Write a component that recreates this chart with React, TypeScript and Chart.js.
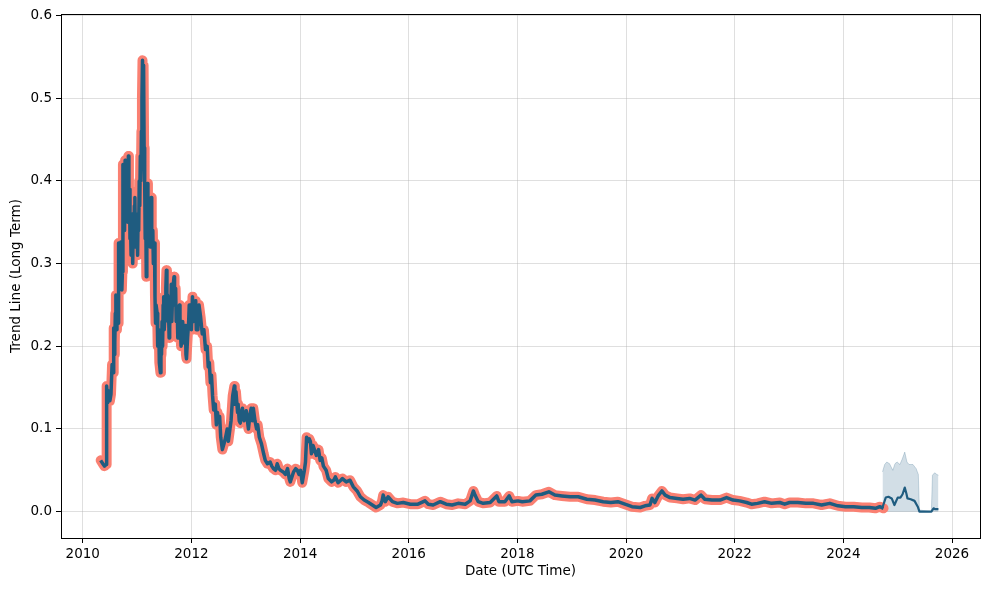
import React, { useEffect, useRef } from "react";
import { Chart, registerables } from "chart.js";

Chart.register(...registerables);

// [decimal year, value]
const history: [number, number][] = [
  [2010.33, 0.062], [2010.37, 0.058], [2010.40, 0.055], [2010.43, 0.057], [2010.44, 0.152],
  [2010.46, 0.132], [2010.48, 0.146], [2010.50, 0.134], [2010.52, 0.142], [2010.54, 0.178],
  [2010.56, 0.168], [2010.57, 0.222], [2010.58, 0.19], [2010.59, 0.205], [2010.60, 0.24],
  [2010.61, 0.262], [2010.62, 0.22], [2010.63, 0.238], [2010.64, 0.25], [2010.65, 0.228],
  [2010.66, 0.325], [2010.67, 0.27], [2010.68, 0.31], [2010.69, 0.28], [2010.70, 0.326],
  [2010.71, 0.29], [2010.72, 0.268], [2010.73, 0.29], [2010.74, 0.42], [2010.75, 0.36],
  [2010.76, 0.395], [2010.77, 0.34], [2010.78, 0.425], [2010.79, 0.36], [2010.80, 0.37],
  [2010.81, 0.41], [2010.82, 0.415], [2010.83, 0.35], [2010.84, 0.43], [2010.85, 0.38],
  [2010.86, 0.39], [2010.87, 0.33], [2010.88, 0.345], [2010.89, 0.31], [2010.90, 0.32],
  [2010.91, 0.36], [2010.92, 0.30], [2010.93, 0.35], [2010.94, 0.33], [2010.95, 0.37],
  [2010.96, 0.38], [2010.97, 0.32], [2010.98, 0.335], [2010.99, 0.36], [2011.01, 0.31],
  [2011.02, 0.36], [2011.03, 0.34], [2011.04, 0.40], [2011.05, 0.37], [2011.06, 0.43],
  [2011.07, 0.40], [2011.08, 0.46], [2011.09, 0.50], [2011.10, 0.546], [2011.11, 0.52],
  [2011.12, 0.54], [2011.13, 0.44], [2011.14, 0.40], [2011.15, 0.33], [2011.16, 0.357],
  [2011.17, 0.284], [2011.18, 0.34], [2011.19, 0.397], [2011.20, 0.35], [2011.21, 0.37],
  [2011.22, 0.33], [2011.23, 0.36], [2011.24, 0.32], [2011.26, 0.38], [2011.27, 0.33],
  [2011.29, 0.34], [2011.30, 0.30], [2011.32, 0.325], [2011.33, 0.26], [2011.34, 0.228],
  [2011.35, 0.25], [2011.37, 0.24], [2011.38, 0.20], [2011.40, 0.22], [2011.41, 0.18],
  [2011.43, 0.168], [2011.44, 0.2], [2011.45, 0.19], [2011.46, 0.23], [2011.47, 0.20],
  [2011.48, 0.25], [2011.49, 0.26], [2011.50, 0.22], [2011.52, 0.245], [2011.53, 0.27],
  [2011.54, 0.292], [2011.55, 0.25], [2011.56, 0.262], [2011.57, 0.23], [2011.58, 0.24],
  [2011.59, 0.21], [2011.60, 0.22], [2011.61, 0.26], [2011.62, 0.24], [2011.63, 0.275],
  [2011.64, 0.23], [2011.65, 0.255], [2011.66, 0.27], [2011.68, 0.284], [2011.69, 0.25],
  [2011.71, 0.27], [2011.72, 0.23], [2011.74, 0.24], [2011.75, 0.21], [2011.76, 0.22],
  [2011.78, 0.25], [2011.79, 0.235], [2011.81, 0.20], [2011.83, 0.21], [2011.84, 0.23],
  [2011.86, 0.204], [2011.87, 0.22], [2011.89, 0.225], [2011.90, 0.19], [2011.91, 0.185],
  [2011.93, 0.21], [2011.95, 0.23], [2011.96, 0.25], [2011.98, 0.25], [2012.00, 0.22],
  [2012.02, 0.26], [2012.03, 0.24], [2012.04, 0.23], [2012.06, 0.25], [2012.08, 0.255],
  [2012.09, 0.22], [2012.11, 0.22], [2012.12, 0.245], [2012.14, 0.25], [2012.17, 0.235],
  [2012.20, 0.215], [2012.23, 0.22], [2012.26, 0.196], [2012.29, 0.2], [2012.31, 0.175],
  [2012.33, 0.18], [2012.35, 0.156], [2012.37, 0.165], [2012.39, 0.14], [2012.41, 0.123],
  [2012.44, 0.13], [2012.46, 0.105], [2012.48, 0.12], [2012.50, 0.108], [2012.52, 0.115],
  [2012.54, 0.09], [2012.57, 0.075], [2012.60, 0.082], [2012.63, 0.09], [2012.66, 0.1],
  [2012.68, 0.085], [2012.70, 0.095], [2012.73, 0.11], [2012.76, 0.14], [2012.79, 0.152],
  [2012.80, 0.13], [2012.82, 0.145], [2012.85, 0.12], [2012.86, 0.13], [2012.88, 0.11],
  [2012.90, 0.107], [2012.92, 0.12], [2012.94, 0.125], [2012.97, 0.11], [2013.01, 0.122],
  [2013.05, 0.1], [2013.08, 0.118], [2013.10, 0.125], [2013.12, 0.11], [2013.14, 0.125],
  [2013.17, 0.11], [2013.20, 0.1], [2013.22, 0.105], [2013.25, 0.09], [2013.29, 0.082],
  [2013.33, 0.07], [2013.36, 0.062], [2013.40, 0.058], [2013.45, 0.06], [2013.48, 0.055],
  [2013.51, 0.052], [2013.55, 0.05], [2013.58, 0.058], [2013.61, 0.052], [2013.64, 0.05],
  [2013.69, 0.048], [2013.73, 0.045], [2013.77, 0.052], [2013.80, 0.04], [2013.82, 0.036],
  [2013.85, 0.042], [2013.88, 0.048], [2013.92, 0.052], [2013.95, 0.05], [2013.98, 0.045],
  [2014.01, 0.05], [2014.04, 0.035], [2014.08, 0.05], [2014.10, 0.06], [2014.12, 0.09],
  [2014.15, 0.085], [2014.17, 0.088], [2014.19, 0.085], [2014.21, 0.07], [2014.24, 0.08],
  [2014.27, 0.074], [2014.30, 0.068], [2014.34, 0.075], [2014.37, 0.062], [2014.40, 0.065],
  [2014.43, 0.055], [2014.48, 0.05], [2014.52, 0.04], [2014.58, 0.036], [2014.62, 0.038],
  [2014.65, 0.042], [2014.70, 0.035], [2014.75, 0.038], [2014.78, 0.04], [2014.85, 0.036],
  [2014.92, 0.038], [2014.98, 0.03], [2015.05, 0.025], [2015.11, 0.018], [2015.18, 0.014],
  [2015.26, 0.011], [2015.33, 0.008], [2015.40, 0.005], [2015.48, 0.008], [2015.51, 0.013],
  [2015.53, 0.02], [2015.57, 0.012], [2015.62, 0.018], [2015.70, 0.012], [2015.79, 0.01],
  [2015.90, 0.011], [2016.03, 0.009], [2016.17, 0.009], [2016.30, 0.013], [2016.36, 0.009],
  [2016.45, 0.008], [2016.58, 0.012], [2016.69, 0.009], [2016.80, 0.008], [2016.91, 0.01],
  [2017.04, 0.009], [2017.13, 0.013], [2017.17, 0.021], [2017.19, 0.025], [2017.22, 0.02],
  [2017.28, 0.012], [2017.37, 0.01], [2017.50, 0.011], [2017.62, 0.019], [2017.66, 0.012],
  [2017.77, 0.012], [2017.85, 0.019], [2017.90, 0.012], [2018.01, 0.013], [2018.09, 0.012],
  [2018.23, 0.013], [2018.34, 0.02], [2018.45, 0.021], [2018.58, 0.024], [2018.69, 0.02],
  [2018.82, 0.019], [2018.97, 0.018], [2019.12, 0.018], [2019.28, 0.015], [2019.43, 0.014],
  [2019.58, 0.012], [2019.72, 0.011], [2019.85, 0.012], [2019.98, 0.009], [2020.11, 0.006],
  [2020.26, 0.005], [2020.35, 0.007], [2020.44, 0.008], [2020.48, 0.016], [2020.53, 0.011],
  [2020.59, 0.019], [2020.66, 0.025], [2020.72, 0.02], [2020.81, 0.017], [2020.94, 0.016],
  [2021.05, 0.015], [2021.17, 0.016], [2021.27, 0.014], [2021.38, 0.02], [2021.45, 0.015],
  [2021.58, 0.014], [2021.73, 0.014], [2021.85, 0.017], [2021.97, 0.014], [2022.09, 0.013],
  [2022.22, 0.011], [2022.31, 0.009], [2022.42, 0.01], [2022.55, 0.012], [2022.68, 0.01],
  [2022.83, 0.011], [2022.92, 0.009], [2023.01, 0.011], [2023.16, 0.011], [2023.31, 0.01],
  [2023.45, 0.01], [2023.60, 0.008], [2023.75, 0.01], [2023.90, 0.007], [2024.04, 0.006],
  [2024.19, 0.006], [2024.34, 0.005], [2024.48, 0.005], [2024.59, 0.004], [2024.67, 0.006],
  [2024.74, 0.004],
];

// forecast trend line [decimal year, value]
const forecast: [number, number][] = [
  [2024.72, 0.005], [2024.78, 0.017], [2024.83, 0.018], [2024.89, 0.016], [2024.94, 0.008],
  [2025.00, 0.017], [2025.05, 0.017], [2025.09, 0.021], [2025.13, 0.029], [2025.16, 0.022],
  [2025.18, 0.016], [2025.24, 0.015], [2025.31, 0.013], [2025.37, 0.006], [2025.40, 0.0],
  [2025.62, 0.0], [2025.66, 0.004], [2025.69, 0.003], [2025.75, 0.003],
];

// forecast uncertainty upper bound (lower bound is 0) [decimal year, value]
const forecastUpper: [number, number][] = [
  [2024.72, 0.048], [2024.76, 0.057], [2024.80, 0.06], [2024.85, 0.058], [2024.91, 0.05],
  [2024.95, 0.058], [2024.99, 0.06], [2025.04, 0.057], [2025.08, 0.063], [2025.13, 0.072],
  [2025.17, 0.06], [2025.21, 0.057], [2025.28, 0.057], [2025.34, 0.052], [2025.38, 0.045],
  [2025.40, 0.002], [2025.62, 0.0], [2025.64, 0.044], [2025.68, 0.047], [2025.72, 0.045],
  [2025.75, 0.044],
];

const xTickValues = [2010, 2012, 2014, 2016, 2018, 2020, 2022, 2024, 2026];
const yTickValues = [0, 0.1, 0.2, 0.3, 0.4, 0.5, 0.6];

const xLabel = "Date (UTC Time)";
const yLabel = "Trend Line (Long Term)";

const SALMON = "#fa8072";
const BLUE = "#1f5c80";
const FONT = "'DejaVu Sans', sans-serif";

const framePlugin = {
  id: "frame",
  afterDraw(chart: any) {
    const { ctx, chartArea } = chart;
    const { left, top, right, bottom } = chartArea;
    ctx.save();
    ctx.strokeStyle = "#000";
    ctx.lineWidth = 1;
    ctx.strokeRect(Math.round(left) + 0.5, Math.round(top) + 0.5, Math.round(right - left), Math.round(bottom - top));
    ctx.restore();
  },
};

export default function App() {
  const canvasRef = useRef<HTMLCanvasElement | null>(null);

  useEffect(() => {
    document.body.style.margin = "0";
    const canvas = canvasRef.current;
    if (!canvas) return;
    const hist = history.map(([x, y]) => ({ x, y }));
    const fc = forecast.map(([x, y]) => ({ x, y }));
    const band = forecastUpper.map(([x, y]) => ({ x, y }));
    const tickFont = { family: FONT, size: 13.5 };

    const chart = new Chart(canvas, {
      type: "line",
      data: {
        datasets: [
          {
            data: band,
            borderColor: "rgba(31,92,128,0.22)",
            backgroundColor: "rgba(31,92,128,0.2)",
            borderWidth: 1,
            fill: "origin",
            pointRadius: 0,
            order: 3,
          },
          {
            data: hist,
            borderColor: SALMON,
            borderWidth: 10,
            borderJoinStyle: "round",
            borderCapStyle: "round",
            pointRadius: 0,
            fill: false,
            order: 2,
          },
          {
            data: hist,
            borderColor: BLUE,
            borderWidth: 3.5,
            borderJoinStyle: "round",
            pointRadius: 0,
            fill: false,
            order: 1,
          },
          {
            data: fc,
            borderColor: BLUE,
            borderWidth: 2.2,
            borderJoinStyle: "round",
            pointRadius: 0,
            fill: false,
            order: 0,
          },
        ],
      },
      options: {
        responsive: false,
        animation: false,
        devicePixelRatio: 1,
        layout: { padding: { top: 14, right: 9, left: 0, bottom: 0 } },
        plugins: { legend: { display: false }, tooltip: { enabled: false } },
        elements: { point: { radius: 0 }, line: { tension: 0 } },
        scales: {
          x: {
            type: "linear",
            min: 2009.6,
            max: 2026.515,
            afterBuildTicks: (s: any) => {
              s.ticks = xTickValues.map((v) => ({ value: v }));
            },
            afterFit: (s: any) => {
              s.height = 51;
            },
            grid: { color: "rgba(176,176,176,0.4)", tickColor: "#000", tickLength: 5, lineWidth: 1 },
            border: { display: false },
            ticks: {
              color: "#000",
              font: tickFont,
              padding: 3,
              maxRotation: 0,
              autoSkip: false,
              callback: (v: any) => String(v),
            },
            title: {
              display: true,
              text: xLabel,
              color: "#000",
              font: tickFont,
              padding: { top: 0, bottom: 9 },
            },
          },
          y: {
            type: "linear",
            min: -0.0319,
            max: 0.6019,
            afterBuildTicks: (s: any) => {
              s.ticks = yTickValues.map((v) => ({ value: v }));
            },
            afterFit: (s: any) => {
              s.width = 61;
            },
            grid: { color: "rgba(176,176,176,0.4)", tickColor: "#000", tickLength: 5, lineWidth: 1 },
            border: { display: false },
            ticks: {
              color: "#000",
              font: tickFont,
              padding: 4,
              callback: (v: any) => Number(v).toFixed(1),
            },
            title: {
              display: true,
              text: yLabel,
              color: "#000",
              font: tickFont,
              padding: { top: 8, bottom: 0 },
            },
          },
        },
      },
      plugins: [framePlugin],
    } as any);

    return () => chart.destroy();
  }, []);

  return (
    <div style={{ width: 989, height: 589 }}>
      <canvas ref={canvasRef} width={989} height={589} style={{ display: "block" }} />
    </div>
  );
}
